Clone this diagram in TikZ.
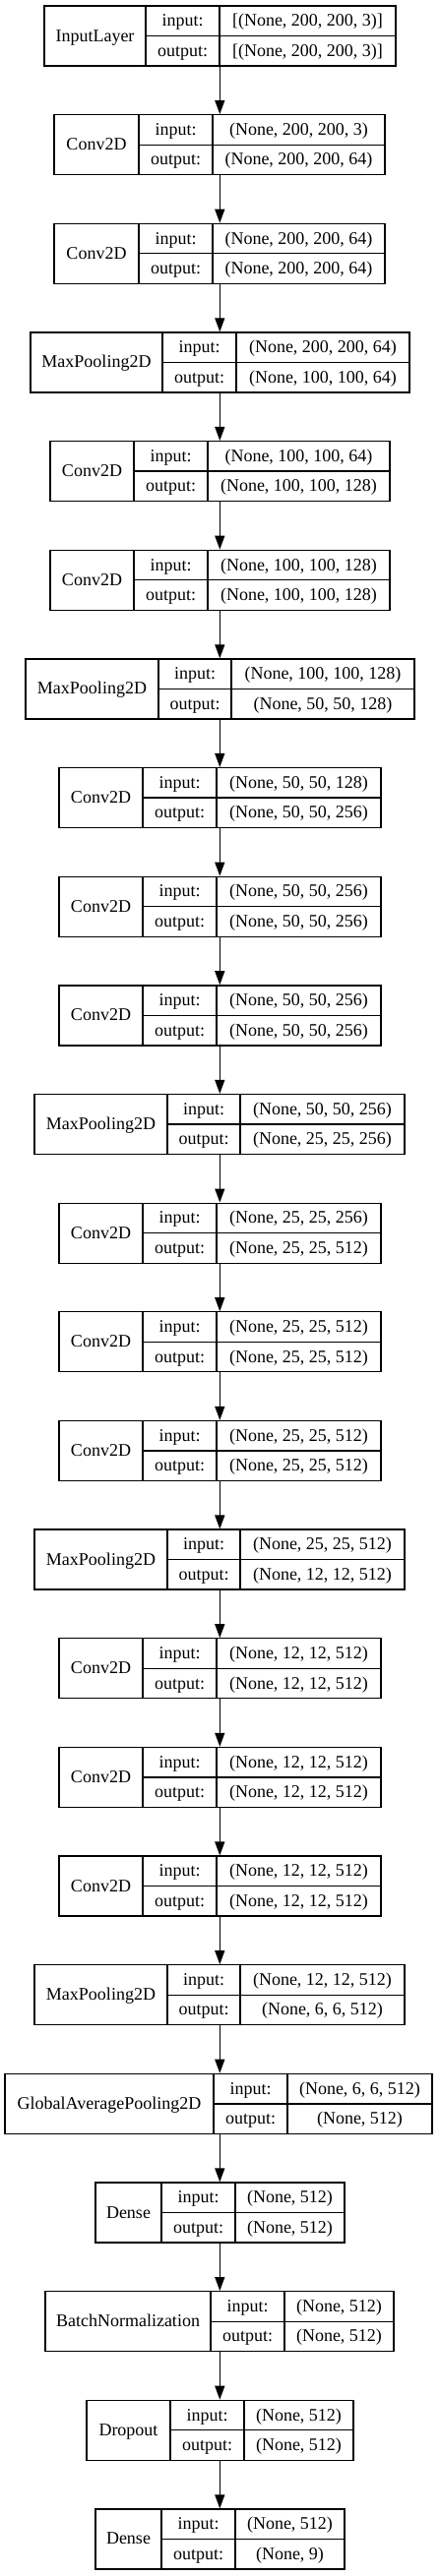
\documentclass[tikz,border=0pt]{standalone}
\usepackage{fontspec}
\setmainfont{Liberation Serif}
\usetikzlibrary{arrows.meta}
\tikzset{
 box/.style={draw, line width=1.3pt, inner sep=0pt, minimum height=61pt},
 cell/.style={line width=1.3pt},
 txt/.style={anchor=base, inner sep=0pt, font=\fontsize{18}{22}\selectfont},
 arr/.style={line width=1.3pt, -{Triangle[length=14pt,width=10pt]}},
}
\newcommand\layerbox[9]{%
 \pgfmathsetmacro\lbt{6+110.65*#2}%
 \pgfmathsetmacro\lbw{#6-#3}%
 \pgfmathsetmacro\lbx{(#3+#6)/2}%
 \pgfmathsetmacro\lbc{\lbt+30.5}%
 \pgfmathsetmacro\lbb{\lbt+61}%
 \pgfmathsetmacro\lbm{(#4+#5)/2}%
 \pgfmathsetmacro\lbr{(#5+#6)/2}%
 \pgfmathsetmacro\lbl{(#3+#4)/2}%
 \node[box, minimum width=\lbw pt] (#1) at (\lbx,\lbc) {};
 \draw[cell] (#4,\lbt) -- (#4,\lbb) (#5,\lbt) -- (#5,\lbb) (#4,\lbc) -- (#6,\lbc);
 \node[txt] (#1-name) at (\lbl,\lbc+5.5) {#7};
 \node[txt] (#1-inl) at (\lbm,\lbt+20.75) {input:};
 \node[txt] (#1-outl) at (\lbm,\lbt+51.25) {output:};
 \node[txt] (#1-in) at (\lbr,\lbt+20.75) {#8};
 \node[txt] (#1-out) at (\lbr,\lbt+51.25) {#9};
}
\begin{document}
\begin{tikzpicture}[x=1pt,y=-1pt]
\useasboundingbox (0,0) rectangle (447,2619);
\coordinate (ax) at (223.3,0);
\layerbox{b1}{0}{45}{148}{223}{402}{InputLayer}{[(None, 200, 200, 3)]}{[(None, 200, 200, 3)]}
\layerbox{b2}{1}{55}{141}{216}{391}{Conv2D}{(None, 200, 200, 3)}{(None, 200, 200, 64)}
\layerbox{b3}{2}{55}{141}{216}{391}{Conv2D}{(None, 200, 200, 64)}{(None, 200, 200, 64)}
\layerbox{b4}{3}{31}{165}{240}{416}{MaxPooling2D}{(None, 200, 200, 64)}{(None, 100, 100, 64)}
\layerbox{b5}{4}{51}{136}{211}{396}{Conv2D}{(None, 100, 100, 64)}{(None, 100, 100, 128)}
\layerbox{b6}{5}{51}{136}{211}{396}{Conv2D}{(None, 100, 100, 128)}{(None, 100, 100, 128)}
\layerbox{b7}{6}{26}{161}{235}{421}{MaxPooling2D}{(None, 100, 100, 128)}{(None, 50, 50, 128)}
\layerbox{b8}{7}{60}{145}{220}{387}{Conv2D}{(None, 50, 50, 128)}{(None, 50, 50, 256)}
\layerbox{b9}{8}{60}{145}{220}{387}{Conv2D}{(None, 50, 50, 256)}{(None, 50, 50, 256)}
\layerbox{b10}{9}{60}{145}{220}{387}{Conv2D}{(None, 50, 50, 256)}{(None, 50, 50, 256)}
\layerbox{b11}{10}{35}{170}{244}{411}{MaxPooling2D}{(None, 50, 50, 256)}{(None, 25, 25, 256)}
\layerbox{b12}{11}{60}{145}{220}{387}{Conv2D}{(None, 25, 25, 256)}{(None, 25, 25, 512)}
\layerbox{b13}{12}{60}{145}{220}{387}{Conv2D}{(None, 25, 25, 512)}{(None, 25, 25, 512)}
\layerbox{b14}{13}{60}{145}{220}{387}{Conv2D}{(None, 25, 25, 512)}{(None, 25, 25, 512)}
\layerbox{b15}{14}{35}{170}{244}{411}{MaxPooling2D}{(None, 25, 25, 512)}{(None, 12, 12, 512)}
\layerbox{b16}{15}{60}{145}{220}{387}{Conv2D}{(None, 12, 12, 512)}{(None, 12, 12, 512)}
\layerbox{b17}{16}{60}{145}{220}{387}{Conv2D}{(None, 12, 12, 512)}{(None, 12, 12, 512)}
\layerbox{b18}{17}{60}{145}{220}{387}{Conv2D}{(None, 12, 12, 512)}{(None, 12, 12, 512)}
\layerbox{b19}{18}{35}{170}{244}{411}{MaxPooling2D}{(None, 12, 12, 512)}{(None, 6, 6, 512)}
\layerbox{b20}{19}{5}{217}{292}{439}{GlobalAveragePooling2D}{(None, 6, 6, 512)}{(None, 512)}
\layerbox{b21}{20}{97}{164}{239}{350}{Dense}{(None, 512)}{(None, 512)}
\layerbox{b22}{21}{46}{214}{289}{400}{BatchNormalization}{(None, 512)}{(None, 512)}
\layerbox{b23}{22}{88}{173}{248}{359}{Dropout}{(None, 512)}{(None, 512)}
\layerbox{b24}{23}{97}{164}{239}{350}{Dense}{(None, 512)}{(None, 9)}
\foreach \a/\b in {1/2,2/3,3/4,4/5,5/6,6/7,7/8,8/9,9/10,10/11,11/12,12/13,13/14,14/15,15/16,16/17,17/18,18/19,19/20,20/21,21/22,22/23,23/24}
  \draw[arr] (b\a.south -| ax) -- (b\b.north -| ax);
\end{tikzpicture}
\end{document}
